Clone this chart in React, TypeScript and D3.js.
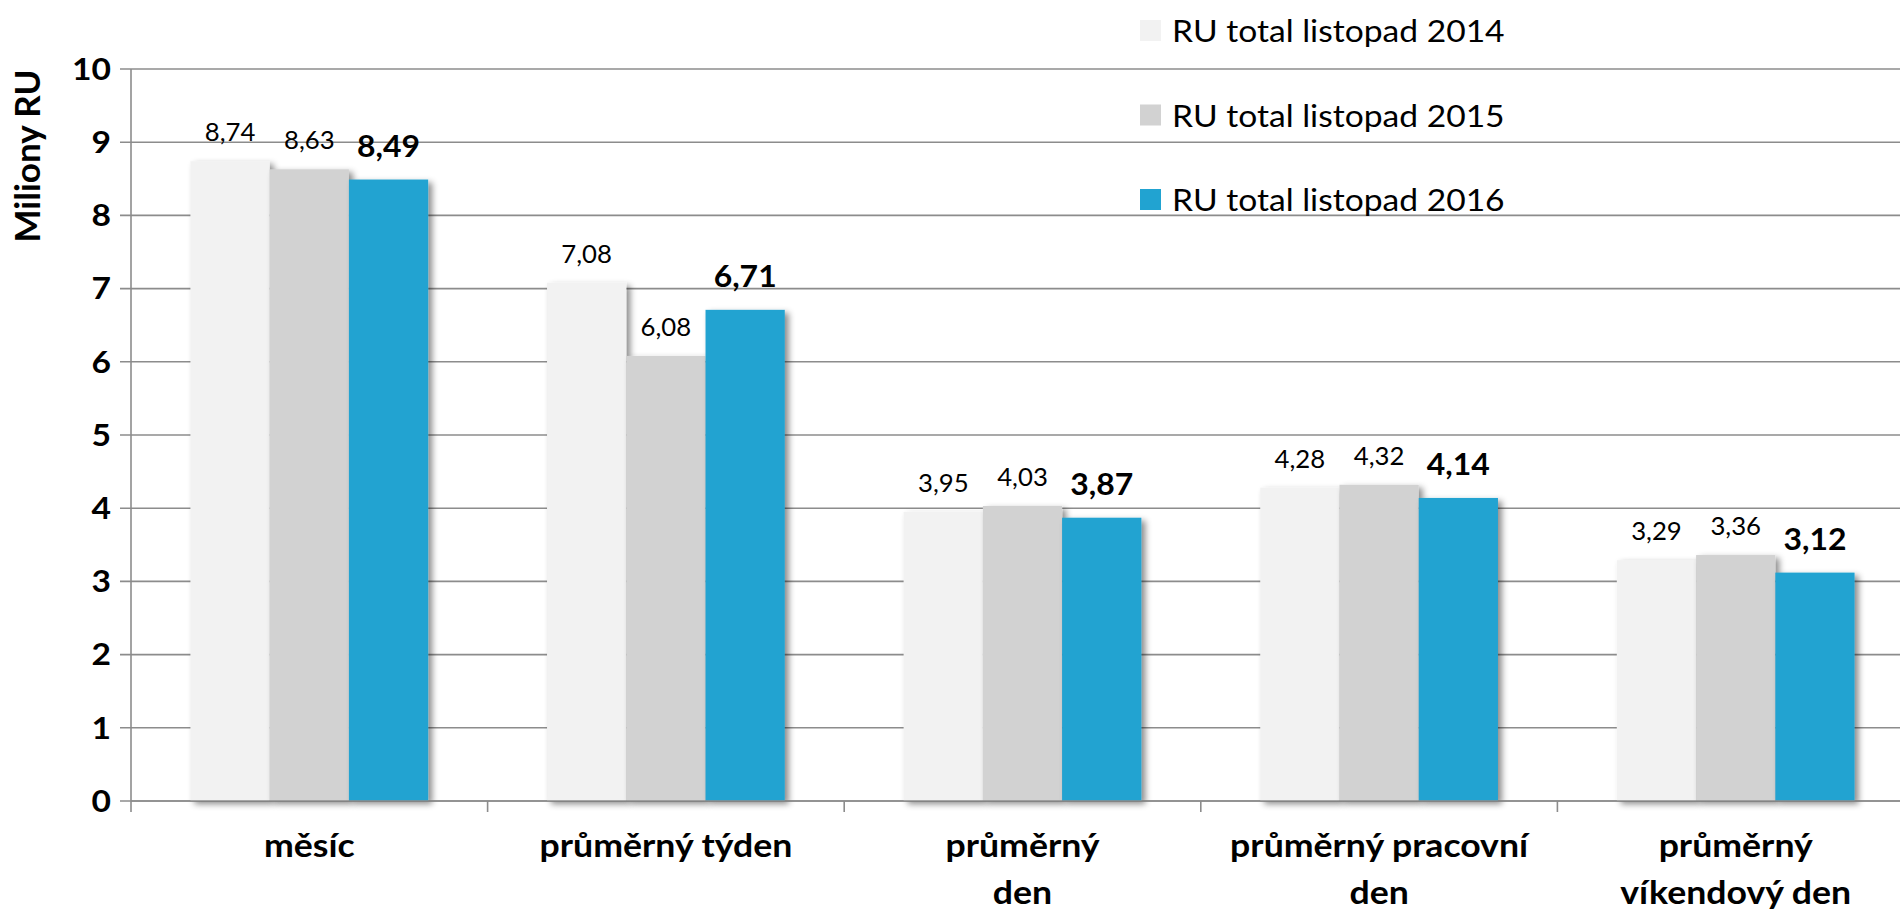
import React from "react";
import * as d3 from "d3";

const categories = [
  "měsíc",
  "průměrný týden",
  "průměrný\nden",
  "průměrný pracovní\nden",
  "průměrný\nvíkendový den",
];
const seriesNames = ["RU total listopad 2014", "RU total listopad 2015", "RU total listopad 2016"];
const values2014 = [8.74, 7.08, 3.95, 4.28, 3.29];
const values2015 = [8.63, 6.08, 4.03, 4.32, 3.36];
const values2016 = [8.49, 6.71, 3.87, 4.14, 3.12];
const yTicks = [0, 1, 2, 3, 4, 5, 6, 7, 8, 9, 10];
const yTitle = "Miliony RU";

const colors = ["#F2F2F2", "#D2D2D2", "#21A3D1"];
const FONT = "Lato, 'Open Sans', sans-serif";

export default function App() {
  const W = 1900;
  const H = 912;
  const left = 131;
  const top = 69;
  const bottom = 801;
  const step = 356.6;
  const right = left + step * categories.length;

  const series = [values2014, values2015, values2016];

  const y = d3.scaleLinear().domain([0, 10]).range([bottom, top]);
  const x0 = d3
    .scaleBand<string>()
    .domain(categories)
    .range([left, right])
    .paddingInner(1.5 / 4.5)
    .paddingOuter(0.75 / 4.5);
  const x1 = d3
    .scaleBand<string>()
    .domain(seriesNames)
    .range([0, x0.bandwidth()]);

  const fmt = (v: number) => d3.format(".2f")(v).replace(".", ",");

  return (
    <svg
      width={W}
      height={H}
      style={{ position: "absolute", left: 0, top: 0, background: "#fff" }}
      fontFamily={FONT}
    >
      <defs>
        <filter id="shadow" x="-20%" y="-10%" width="150%" height="130%">
          <feDropShadow dx="4" dy="3" stdDeviation="3" floodColor="#000" floodOpacity="0.45" />
        </filter>
      </defs>

      {/* gridlines */}
      {yTicks.map((t) => (
        <line
          key={"g" + t}
          x1={left - 11}
          x2={W}
          y1={y(t)}
          y2={y(t)}
          stroke="#8C8C8C"
          strokeWidth={1.6}
        />
      ))}

      {/* bars */}
      {categories.map((c, ci) => (
        <g key={c}>
          {series.map((s, si) => (
            <rect
              key={si}
              x={(x0(c) as number) + (x1(seriesNames[si]) as number)}
              y={y(s[ci])}
              width={x1.bandwidth()}
              height={bottom - y(s[ci])}
              fill={colors[si]}
              filter="url(#shadow)"
            />
          ))}
        </g>
      ))}

      {/* x axis line */}
      <line x1={left} x2={W} y1={bottom} y2={bottom} stroke="#8C8C8C" strokeWidth={1.6} />
      {/* y axis line */}
      <line x1={left} x2={left} y1={top} y2={bottom + 11} stroke="#8C8C8C" strokeWidth={1.6} />
      {/* category boundary ticks */}
      {categories.map((c, ci) => {
        const xb = left + step * (ci + 1);
        return xb < W ? (
          <line key={"t" + ci} x1={xb} x2={xb} y1={bottom} y2={bottom + 11} stroke="#8C8C8C" strokeWidth={1.6} />
        ) : null;
      })}

      {/* y tick labels */}
      {yTicks.map((t) => (
        <text
          key={"yl" + t}
          transform={`translate(${left - 20}, ${y(t)}) scale(1.12,1)`}
          dy="0.36em"
          textAnchor="end"
          fontSize={30}
          fontWeight="bold"
          fill="#000"
        >
          {t}
        </text>
      ))}

      {/* y title */}
      <text
        transform={`translate(40, 156) rotate(-90)`}
        textAnchor="middle"
        fontSize={35}
        fontWeight="bold"
        fill="#000"
      >
        {yTitle}
      </text>

      {/* data labels */}
      {categories.map((c, ci) =>
        series.map((s, si) => {
          const cx = (x0(c) as number) + (x1(seriesNames[si]) as number) + x1.bandwidth() / 2;
          const bold = si === 2;
          return (
            <text
              key={c + si}
              transform={`translate(${cx}, ${y(s[ci]) - (bold ? 23 : 20)}) scale(1.03,1)`}
              textAnchor="middle"
              fontSize={bold ? 31 : 25}
              fontWeight={bold ? "bold" : "normal"}
              fill="#000"
            >
              {fmt(s[ci])}
            </text>
          );
        })
      )}

      {/* category labels */}
      {categories.map((c) => {
        const cx = (x0(c) as number) + x0.bandwidth() / 2;
        const lines = c.split("\n");
        return (
          <g key={"cl" + c} transform={`translate(${cx}, 0) scale(1.08,1)`}>
            <text textAnchor="middle" fontSize={33} fontWeight="bold" fill="#000">
              {lines.map((ln, li) => (
                <tspan key={li} x={0} y={857 + li * 47}>
                  {ln}
                </tspan>
              ))}
            </text>
          </g>
        );
      })}

      {/* legend */}
      {seriesNames.map((n, i) => (
        <g key={n} transform={`translate(1140, ${20 + i * 84.5})`}>
          <rect x={0} y={0} width={21} height={21} fill={colors[i]} />
          <text transform="translate(32, 22) scale(1.12,1)" fontSize={30} fill="#000">
            {n}
          </text>
        </g>
      ))}
    </svg>
  );
}
